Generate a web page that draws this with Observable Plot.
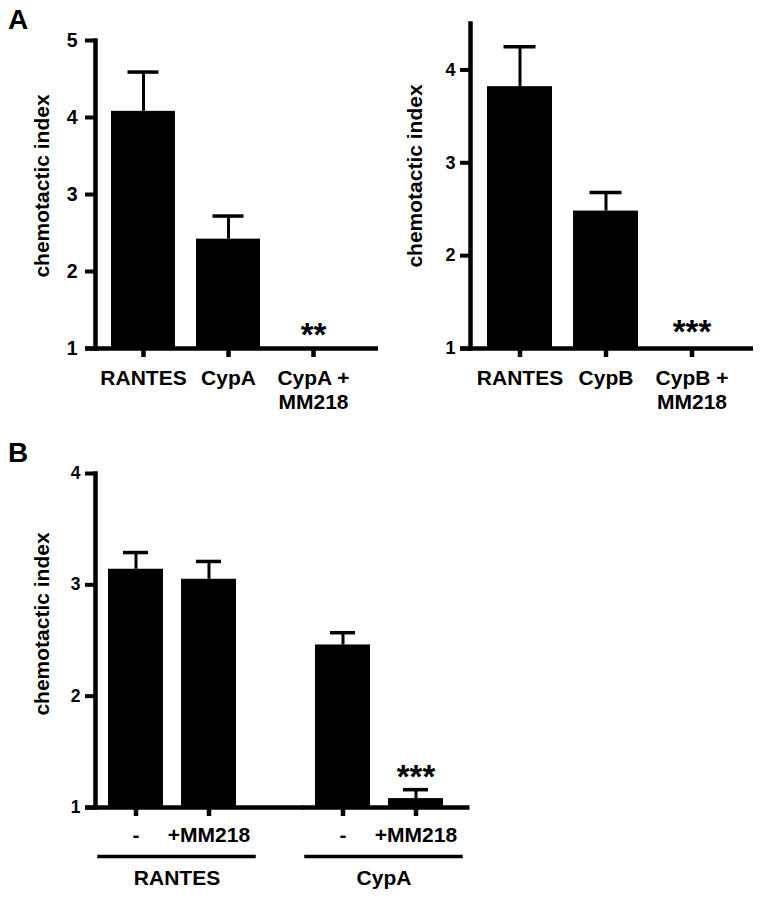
<!DOCTYPE html>
<html>
<head>
<meta charset="utf-8">
<script src="https://cdn.jsdelivr.net/npm/d3@7"></script>
<script src="https://cdn.jsdelivr.net/npm/@observablehq/plot@0.6"></script>
<style>
  html, body { margin: 0; padding: 0; background: #fff; }
  #fig { position: relative; width: 762px; height: 899px; font-family: "Liberation Sans", Arial, Helvetica, sans-serif; color: #000; }
  .panel { position: absolute; }
  .letter { position: absolute; font-size: 28px; font-weight: bold; line-height: 28px; }
</style>
</head>
<body>
<div id="fig">
  <div class="letter" style="left:8px; top:6px;">A</div>
  <div class="letter" style="left:8px; top:439px;">B</div>
  <div id="pA1" class="panel" style="left:0px; top:0px;"></div>
  <div id="pA2" class="panel" style="left:380px; top:0px;"></div>
  <div id="pB" class="panel" style="left:0px; top:420px;"></div>
</div>
<script>
// ---------- data ----------
const yLabel = "chemotactic index";

const a1Categories = ["RANTES", "CypA", "CypA +\nMM218"];
const a1Means = [4.08, 2.42, 1.0];
const a1Sems = [0.51, 0.30, 0];
const a1Stars = ["", "", "**"];
const a1Domain = [1, 5];
const a1Ticks = [1, 2, 3, 4, 5];

const a2Categories = ["RANTES", "CypB", "CypB +\nMM218"];
const a2Means = [3.82, 2.48, 1.0];
const a2Sems = [0.43, 0.20, 0];
const a2Stars = ["", "", "***"];
const a2Domain = [1, 4.5];
const a2Ticks = [1, 2, 3, 4];

const bGroups = ["RANTES", "RANTES", "CypA", "CypA"];
const bTreatments = ["-", "+MM218", "-", "+MM218"];
const bMeans = [3.14, 3.05, 2.46, 1.08];
const bSems = [0.15, 0.16, 0.11, 0.08];
const bStars = ["", "", "", "***"];
const bDomain = [1, 4];
const bTicks = [1, 2, 3, 4];
const bGroupOrder = ["RANTES", "CypA"];
const bTreatOrder = ["-", "+MM218"];

// ---------- helpers ----------
const FONT = "'Liberation Sans', Arial, Helvetica, sans-serif";
function rows(cats, means, sems, stars) {
  return cats.map((c, i) => ({cat: c, mean: means[i], upper: means[i] + sems[i], sem: sems[i], sig: stars[i]}));
}
const baseStyle = {fontFamily: FONT, color: "black", background: "transparent", overflow: "visible"};

function panelA(cats, means, sems, stars, domain, ticks, o) {
  const data = rows(cats, means, sems, stars);
  const base = domain[0];
  return Plot.plot({
    width: o.width, height: o.height,
    marginLeft: o.ml, marginTop: o.mt, marginRight: o.mr, marginBottom: o.mb,
    style: baseStyle,
    x: {type: "band", domain: cats, paddingInner: 0.25, paddingOuter: o.po},
    y: {domain: domain},
    marks: [
      Plot.barY(data, {x: "cat", y1: () => base, y2: "mean", fill: "black"}),
      Plot.ruleX(data.filter(d => d.sem > 0), {x: "cat", y1: "mean", y2: "upper", strokeWidth: 3, stroke: "black"}),
      Plot.tickY(data.filter(d => d.sem > 0), {x: "cat", y: "upper", inset: 16.5, strokeWidth: 3.5, stroke: "black"}),
      Plot.text(data, {x: "cat", y: "upper", text: "sig", lineAnchor: "bottom", dy: o.starDy, fontSize: 33, fontWeight: "bold", fill: "black"}),
      Plot.frame({anchor: "left", strokeWidth: 4.5, stroke: "black"}),
      Plot.ruleY([base], {insetLeft: -10, insetRight: o.ruleRight, strokeWidth: 4.5, stroke: "black"}),
      Plot.axisY({ticks: ticks, tickFormat: d => String(d), tickSize: 10, tickPadding: o.tp, strokeWidth: 4, fontSize: o.tickFont, fontWeight: "bold", label: null}),
      Plot.axisX({tickSize: 9, tickPadding: 10, strokeWidth: 4.5, fontSize: 21, fontWeight: "bold", lineHeight: 1.15, label: null}),
      Plot.text([yLabel], {frameAnchor: "left", textAnchor: "middle", rotate: -90, dx: o.labDx, dy: o.labDy, fontSize: 21, fontWeight: "bold", fill: "black"})
    ]
  });
}

document.getElementById("pA1").append(panelA(a1Categories, a1Means, a1Sems, a1Stars, a1Domain, a1Ticks,
  {width: 380, height: 420, ml: 95, mt: 40, mr: 20, mb: 72, po: 0.175, ruleRight: -18, tp: 8, tickFont: 19.5, labDx: -53, labDy: -8.5, starDy: -2.5}));

document.getElementById("pA2").append(panelA(a2Categories, a2Means, a2Sems, a2Stars, a2Domain, a2Ticks,
  {width: 382, height: 420, ml: 90, mt: 23, mr: 22, mb: 72, po: 0.178, ruleRight: -13, tp: 5, tickFont: 18, labDx: -55, labDy: -10, starDy: -6}));

// ---------- panel B ----------
const dataB = bGroups.map((g, i) => ({group: g, treat: bTreatments[i], mean: bMeans[i], upper: bMeans[i] + bSems[i], sem: bSems[i], sig: bStars[i]}));
const baseB = bDomain[0];
const plotB = Plot.plot({
  width: 500, height: 479,
  marginLeft: 95, marginTop: 53, marginRight: 42.5, marginBottom: 92,
  style: baseStyle,
  fx: {domain: bGroupOrder, paddingInner: 0.253, paddingOuter: 0},
  x: {type: "band", domain: bTreatOrder, paddingInner: 0.243, paddingOuter: 0.169},
  y: {domain: bDomain},
  marks: [
    Plot.barY(dataB, {fx: "group", x: "treat", y1: () => baseB, y2: "mean", fill: "black"}),
    Plot.ruleX(dataB, {fx: "group", x: "treat", y1: "mean", y2: "upper", strokeWidth: 3, stroke: "black"}),
    Plot.tickY(dataB, {fx: "group", x: "treat", y: "upper", inset: 15, strokeWidth: 3.5, stroke: "black"}),
    Plot.text(dataB, {fx: "group", x: "treat", y: "upper", text: "sig", lineAnchor: "bottom", dy: -1.5, fontSize: 33, fontWeight: "bold", fill: "black"}),
    Plot.frame({anchor: "left", facet: "super", strokeWidth: 4.5, stroke: "black"}),
    // x-axis baseline, continuous across both groups
    Plot.ruleY([bGroupOrder[0]], {fx: d => d, y: () => baseB, insetLeft: -10, insetRight: -54, strokeWidth: 4.5, stroke: "black"}),
    Plot.ruleY([bGroupOrder[1]], {fx: d => d, y: () => baseB, insetLeft: 0, insetRight: -12.5, strokeWidth: 4.5, stroke: "black"}),
    // group underline
    Plot.frame({anchor: "bottom", dx: 3.5, dy: 49, strokeWidth: 3.5, stroke: "black"}),
    Plot.axisY({ticks: bTicks, tickFormat: d => String(d), tickSize: 10, tickPadding: 5, strokeWidth: 4, fontSize: 17.5, fontWeight: "bold", label: null}),
    Plot.axisX({tickSize: 9, tickPadding: 11, strokeWidth: 4.5, fontSize: 21, fontWeight: "bold", label: null}),
    Plot.axisFx({anchor: "bottom", tickSize: 0, tickPadding: 63, dx: 4, fontSize: 21, fontWeight: "bold", label: null}),
    Plot.text([yLabel], {facet: "super", frameAnchor: "left", textAnchor: "middle", rotate: -90, dx: -53, dy: -16.5, fontSize: 21, fontWeight: "bold", fill: "black"})
  ]
});
document.getElementById("pB").append(plotB);
</script>
</body>
</html>
